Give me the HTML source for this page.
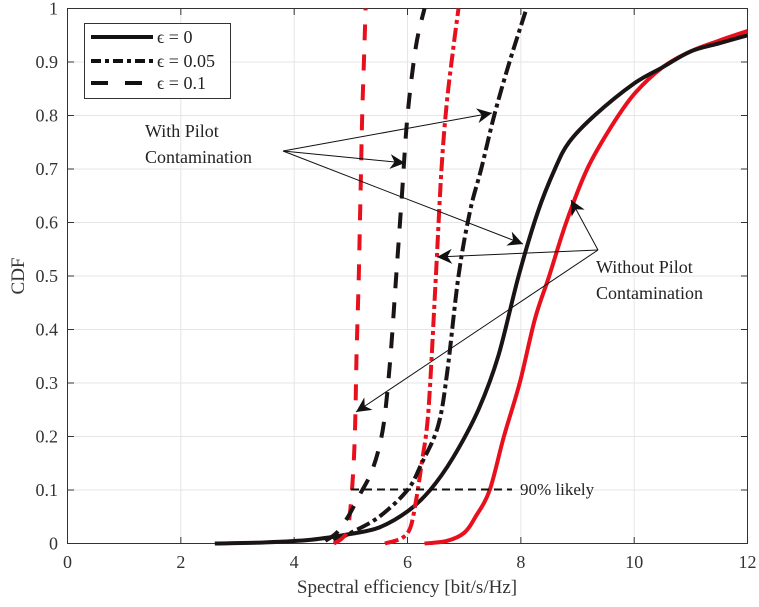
<!DOCTYPE html>
<html><head><meta charset="utf-8"><style>
html,body{margin:0;padding:0;background:#fff}
svg{display:block}
text{font-family:"Liberation Serif",serif}
.t{font-family:"Liberation Sans",sans-serif;font-size:18px;fill:#333}
</style></head><body>
<svg id="s" width="759" height="607" viewBox="0 0 759 607" xmlns="http://www.w3.org/2000/svg">
<defs>
<marker id="ah" viewBox="0 0 10 10" refX="10" refY="5" markerWidth="15" markerHeight="15" markerUnits="userSpaceOnUse" orient="auto"><path d="M0,0 L10,5 L0,10 L3,5 Z" fill="#111"/></marker>
</defs>
<g id="grid" stroke="#e6e6e6" stroke-width="1"></g>
<rect x="67.5" y="8.5" width="680" height="535" fill="none" stroke="#333" stroke-width="1"/>
<g id="ticks" stroke="#333" stroke-width="1"></g>
<g id="labels" class="t"></g>
<g id="curves" fill="none" stroke-width="4"></g>
<line x1="351" y1="489.5" x2="512" y2="489.5" stroke="#111" stroke-width="2" stroke-dasharray="8,5"/>
<text x="520" y="495" font-size="17" fill="#222">90% likely</text>
<g stroke="#111" stroke-width="1" marker-end="url(#ah)">
<line x1="283" y1="151" x2="492" y2="113"/>
<line x1="283" y1="151" x2="405" y2="163"/>
<line x1="283" y1="151" x2="523" y2="244"/>
<line x1="598" y1="250" x2="571" y2="200"/>
<line x1="598" y1="250" x2="437" y2="257"/>
<line x1="598" y1="250" x2="356" y2="412"/>
</g>
<text x="145" y="137" font-size="18" fill="#222">With Pilot</text>
<text x="145" y="163" font-size="18" fill="#222">Contamination</text>
<text x="596" y="273" font-size="18" fill="#222">Without Pilot</text>
<text x="596" y="299" font-size="18" fill="#222">Contamination</text>
<rect x="84.5" y="23.5" width="146" height="75" fill="#fff" stroke="#333" stroke-width="1"/>
<line x1="91" y1="37" x2="153" y2="37" stroke="#111" stroke-width="4"/>
<line x1="91" y1="61" x2="153" y2="61" stroke="#111" stroke-width="4" stroke-dasharray="10,4,4,4"/>
<line x1="91" y1="83" x2="153" y2="83" stroke="#111" stroke-width="4" stroke-dasharray="17,17"/>
<text x="157" y="43" font-size="18" fill="#222">ϵ = 0</text>
<text x="157" y="67" font-size="18" fill="#222">ϵ = 0.05</text>
<text x="157" y="89" font-size="18" fill="#222">ϵ = 0.1</text>
<text x="407" y="593" text-anchor="middle" font-size="19" fill="#333">Spectral efficiency [bit/s/Hz]</text>
<text transform="translate(24,276) rotate(-90)" text-anchor="middle" font-size="19" fill="#333">CDF</text>
</svg>
<script>
var NS="http://www.w3.org/2000/svg";
function px(x){return 67.5+56.67*x}function py(y){return 543.5-535*y}
function el(p,t,a){var e=document.createElementNS(NS,t);for(var k in a)e.setAttribute(k,a[k]);document.getElementById(p).appendChild(e);return e}
for(var i=1;i<12;i++){if(i%2==0)el("grid","line",{x1:px(i),x2:px(i),y1:8.5,y2:543.5})}
for(var j=1;j<10;j++)el("grid","line",{x1:67.5,x2:747.5,y1:py(j/10),y2:py(j/10)});
for(var i=0;i<=12;i+=2){el("ticks","line",{x1:px(i),x2:px(i),y1:543.5,y2:537});el("ticks","line",{x1:px(i),x2:px(i),y1:8.5,y2:15});var t=el("labels","text",{x:px(i),y:568,"text-anchor":"middle"});t.textContent=i}
for(var j=0;j<=10;j++){el("ticks","line",{x1:67.5,x2:74,y1:py(j/10),y2:py(j/10)});el("ticks","line",{x1:747.5,x2:741,y1:py(j/10),y2:py(j/10)});var t=el("labels","text",{x:58,y:py(j/10)+6,"text-anchor":"end"});t.textContent=(j==0?"0":j==10?"1":(j/10).toString())}
function curve(pts,col,dash){var P=pts.map(function(p){return [px(p[0]),py(p[1])]});var d="M"+P[0][0].toFixed(1)+","+P[0][1].toFixed(1);
for(var k=0;k<P.length-1;k++){var p0=P[k-1]||P[k],p1=P[k],p2=P[k+1],p3=P[k+2]||P[k+1];
var c1=[p1[0]+(p2[0]-p0[0])/6,p1[1]+(p2[1]-p0[1])/6],c2=[p2[0]-(p3[0]-p1[0])/6,p2[1]-(p3[1]-p1[1])/6];
d+="C"+c1[0].toFixed(1)+","+c1[1].toFixed(1)+" "+c2[0].toFixed(1)+","+c2[1].toFixed(1)+" "+p2[0].toFixed(1)+","+p2[1].toFixed(1)}
var a={d:d,stroke:col,"stroke-linejoin":"round"};if(dash)a["stroke-dasharray"]=dash;el("curves","path",a)}
var R="#e8101c",K="#1a1414";
curve([[6.3,0],[6.7,0.005],[7,0.02],[7.2,0.05],[7.45,0.1],[7.7,0.2],[7.98,0.3],[8.25,0.42],[8.5,0.5],[8.8,0.6],[9.17,0.7],[9.6,0.78],[10,0.84],[10.5,0.89],[11,0.92],[11.5,0.94],[12,0.958]],R);
curve([[2.6,0],[3.5,0.002],[4.3,0.007],[5,0.018],[5.5,0.03],[6,0.06],[6.4,0.1],[6.8,0.16],[7.25,0.25],[7.6,0.35],[7.96,0.5],[8.3,0.62],[8.6,0.7],[8.85,0.75],[9.3,0.8],[10,0.86],[10.5,0.89],[11,0.92],[11.5,0.935],[12,0.95]],K);
curve([[5.6,0],[5.9,0.01],[6.05,0.03],[6.15,0.08],[6.25,0.15],[6.37,0.25],[6.5,0.5],[6.6,0.7],[6.69,0.82],[6.8,0.92],[6.9,1]],R,"14,4,4,4");
curve([[4.7,0.005],[5,0.02],[5.5,0.05],[6,0.1],[6.25,0.15],[6.54,0.22],[6.7,0.32],[6.9,0.5],[7.1,0.62],[7.3,0.7],[7.53,0.8],[7.8,0.9],[8.1,1]],K,"14,4,4,4");
curve([[4.7,0],[4.85,0.01],[4.95,0.03],[5.02,0.1],[5.07,0.2],[5.1,0.35],[5.14,0.5],[5.17,0.65],[5.2,0.8],[5.23,0.9],[5.26,1]],R,"16,14");
curve([[4.55,0.005],[4.75,0.02],[4.95,0.05],[5.15,0.09],[5.35,0.13],[5.5,0.18],[5.6,0.24],[5.7,0.35],[5.8,0.5],[5.9,0.65],[6.0,0.8],[6.15,0.93],[6.3,1]],K,"16,14");
</script>
</body></html>
